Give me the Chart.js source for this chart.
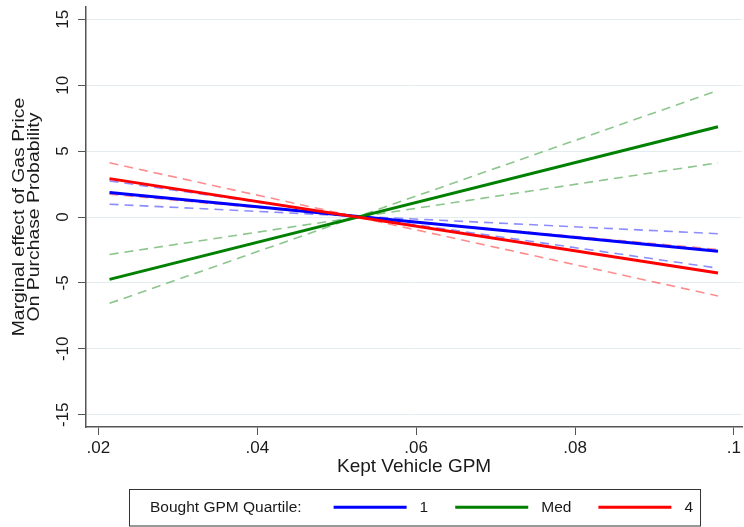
<!DOCTYPE html>
<html>
<head>
<meta charset="utf-8">
<script src="https://cdn.jsdelivr.net/npm/chart.js@4.4.1/dist/chart.umd.min.js"></script>
<style>
  html, body { margin: 0; padding: 0; background: #fff; }
  #wrap { width: 744px; height: 527px; }
</style>
</head>
<body>
<div id="wrap"><canvas id="chart" width="744" height="527"></canvas></div>
<script>
// kept vehicle GPM at both ends of the fitted lines
var xEnds = [0.0214, 0.0980];

// marginal effect of gas price, by bought GPM quartile
var q1Effect = [1.86, -2.59];
var medEffect = [-4.73, 6.85];
var q4Effect = [2.91, -4.24];

// dashed confidence bounds (two per group)
var q1BoundA = [2.74, -3.88];
var q1BoundB = [0.97, -1.27];
var medBoundA = [-2.84, 4.11];
var medBoundB = [-6.55, 9.60];
var q4BoundA = [4.11, -5.99];
var q4BoundB = [1.73, -2.46];

var groupNames = ['1', 'Med', '4'];
var legendTitle = 'Bought GPM Quartile:';
var yTitle = ['Marginal effect of Gas Price', 'On Purchase Probability'];

var xTicks = [0.02, 0.04, 0.06, 0.08, 0.1];
var xTickLabels = ['.02', '.04', '.06', '.08', '.1'];
var yTicks = [-15, -10, -5, 0, 5, 10, 15];
var yTickLabels = ['-15', '-10', '-5', '0', '5', '10', '15'];

var BLUE = '#0000ff', GREEN = '#008000', RED = '#ff0000';
var TEXT = '#1a1a1a', AXIS = '#555555';
var FONT = '"Liberation Sans", Arial, sans-serif';

Chart.defaults.font.family = FONT;
Chart.defaults.color = TEXT;

function pts(ys) {
    return xEnds.map(function (x, i) { return { x: x, y: ys[i] }; });
}

function solid(label, ys, color) {
    return { label: label, data: pts(ys), borderColor: color, borderWidth: 3,
             pointRadius: 0, fill: false, tension: 0 };
}

function dashed(ys, color) {
    return { label: '', data: pts(ys), borderColor: color, borderWidth: 1.6,
             borderDash: [9, 6], pointRadius: 0, fill: false, tension: 0 };
}

// rotated y tick labels, stretched y title and the boxed legend at the bottom
var extras = {
    id: 'extras',
    afterDraw: function (chart) {
        var ctx = chart.ctx;
        var ys = chart.scales.y;
        var area = chart.chartArea;

        ctx.save();
        ctx.fillStyle = TEXT;
        ctx.font = '17px ' + FONT;
        ctx.textAlign = 'center';
        ctx.textBaseline = 'middle';
        yTicks.forEach(function (v, i) {
            ctx.save();
            ctx.translate(63, ys.getPixelForValue(v));
            ctx.rotate(-Math.PI / 2);
            ctx.fillText(yTickLabels[i], 0, 0);
            ctx.restore();
        });

        // y title: two lines, a little stretched like the original
        ctx.font = '16px ' + FONT;
        ctx.textBaseline = 'alphabetic';
        var midY = (area.top + area.bottom) / 2;
        [24, 38.5].forEach(function (bx, i) {
            ctx.save();
            ctx.translate(bx, midY);
            ctx.rotate(-Math.PI / 2);
            ctx.scale(1.21, 1);
            ctx.fillText(yTitle[i], 0, 0);
            ctx.restore();
        });
        ctx.restore();

        // legend
        var solids = chart.data.datasets.filter(function (d) { return d.label; });
        var order = groupNames.map(function (n) {
            return solids.filter(function (d) { return d.label === n; })[0];
        });
        var boxL = 129, boxT = 489, boxB = 525.5, legY = (boxT + boxB) / 2;
        ctx.save();
        ctx.font = '15.5px ' + FONT;
        ctx.fillStyle = TEXT;
        ctx.textBaseline = 'middle';
        ctx.textAlign = 'left';
        var x = 150;
        ctx.fillText(legendTitle, x, legY);
        x += ctx.measureText(legendTitle).width + 32;
        order.forEach(function (d) {
            ctx.strokeStyle = d.borderColor;
            ctx.lineWidth = 3;
            ctx.beginPath();
            ctx.moveTo(x, legY);
            ctx.lineTo(x + 73, legY);
            ctx.stroke();
            x += 73 + 13;
            ctx.fillText(d.label, x, legY);
            x += ctx.measureText(d.label).width + 27;
        });
        var boxR = x - 27 + 7;
        ctx.strokeStyle = '#333';
        ctx.lineWidth = 1;
        ctx.strokeRect(boxL + 0.5, boxT + 0.5, boxR - boxL, boxB - boxT);
        ctx.restore();
    }
};

new Chart(document.getElementById('chart'), {
    type: 'line',
    data: {
        datasets: [
            solid(groupNames[2], q4Effect, RED),
            solid(groupNames[1], medEffect, GREEN),
            solid(groupNames[0], q1Effect, BLUE),
            dashed(q4BoundA, 'rgba(255,0,0,0.45)'),
            dashed(q4BoundB, 'rgba(255,0,0,0.45)'),
            dashed(medBoundA, 'rgba(0,128,0,0.45)'),
            dashed(medBoundB, 'rgba(0,128,0,0.45)'),
            dashed(q1BoundA, 'rgba(0,0,255,0.45)'),
            dashed(q1BoundB, 'rgba(0,0,255,0.45)')
        ]
    },
    options: {
        responsive: false,
        animation: false,
        events: [],
        layout: { padding: { top: 7, right: 0, bottom: 0, left: 0 } },
        plugins: { legend: { display: false }, tooltip: { enabled: false } },
        scales: {
            x: {
                type: 'linear',
                min: 0.01844,
                max: 0.10104,
                afterBuildTicks: function (s) {
                    s.ticks = xTicks.map(function (v) { return { value: v }; });
                },
                afterFit: function (s) { s.height = 100; },
                grid: { drawOnChartArea: false, drawTicks: true, tickLength: 8,
                        tickColor: AXIS, tickWidth: 1 },
                border: { color: AXIS, width: 1.5 },
                ticks: {
                    font: { size: 17 }, color: TEXT, padding: 3,
                    maxRotation: 0, autoSkip: false,
                    callback: function (v, i) { return xTickLabels[i]; }
                },
                title: { display: true, text: 'Kept Vehicle GPM', color: TEXT,
                         font: { size: 19 }, padding: { top: 0, bottom: 49 } }
            },
            y: {
                min: -15.93,
                max: 15.93,
                afterBuildTicks: function (s) {
                    s.ticks = yTicks.map(function (v) { return { value: v }; });
                },
                afterFit: function (s) { s.width = 86; },
                grid: { color: '#e3edf0', lineWidth: 1, drawTicks: true, tickLength: 8,
                        tickColor: AXIS, tickWidth: 1 },
                border: { color: AXIS, width: 1.5 },
                ticks: { display: false }
            }
        }
    },
    plugins: [extras]
});
</script>
</body>
</html>
